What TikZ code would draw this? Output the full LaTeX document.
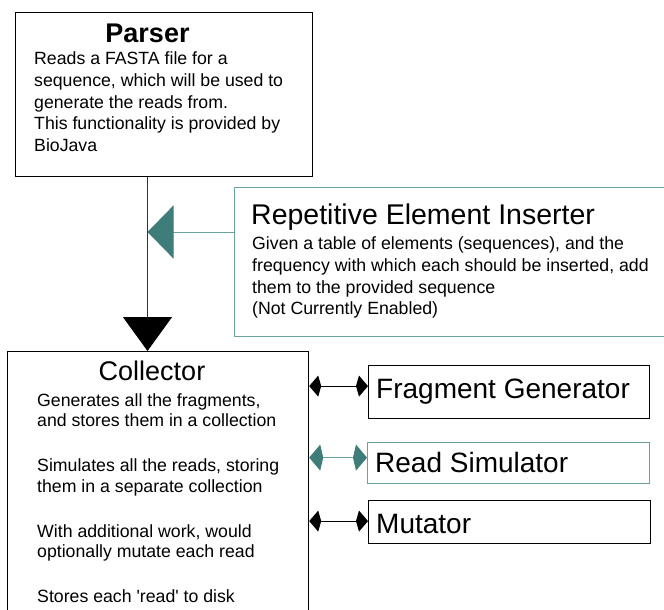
\documentclass[tikz,border=0pt]{standalone}
\usepackage{fontspec}
\setmainfont{Liberation Sans}
\usepackage{tikz}
\usetikzlibrary{positioning, calc, arrows.meta}
\definecolor{tealfill}{HTML}{3F7D7A}
\definecolor{tealedge}{HTML}{6AA29E}

\begin{document}
\begin{tikzpicture}[x=1pt,y=-1pt,
    box/.style={draw, line width=1.2pt, inner sep=0pt, anchor=north west},
    head/.style={font=\fontsize{28}{32}\selectfont, inner sep=0pt, anchor=base west},
    body/.style={font=\fontsize{17.7}{21.7}\selectfont, inner sep=0pt, align=left, anchor=north west},
    link/.style={line width=1pt, {Kite[length=12pt,width=21pt,inset=3pt]}-{Kite[length=12pt,width=21pt,inset=3pt]}}]
  \useasboundingbox (0,0) rectangle (664,610);
  \clip (0,0) rectangle (664,610);
  \node[box, minimum width=297pt, minimum height=164pt] (parser) at (15,12) {};
  \node[box, draw=tealedge, minimum width=440pt, minimum height=149pt] (rep) at (234,187) {};
  \node[box, minimum width=301pt, minimum height=300pt] (coll) at (7,351) {};
  \node[box, minimum width=281pt, minimum height=53pt] (frag) at (368,365) {};
  \node[box, draw=tealedge, minimum width=282pt, minimum height=41pt] (read) at (367,442) {};
  \node[box, minimum width=282pt, minimum height=43pt] (mut) at (368,500) {};
  \node[head, anchor=base, font=\bfseries\fontsize{27}{32}\selectfont] (parsertitle) at (147.5,43) {Parser};
  \node[body] (parserbody) at (34,51.7) {Reads a FASTA file for a\\ sequence, which will be used to\\ generate the reads from.\\ This functionality is provided by\\ BioJava};
  \node[head, font=\fontsize{28.5}{32}\selectfont] (reptitle) at (251,224) {Repetitive Element Inserter};
  \node[body] (repbody) at (252,236.7) {Given a table of elements (sequences), and the\\ frequency with which each should be inserted, add\\ them to the provided sequence\\ (Not Currently Enabled)};
  \node[head, anchor=base, font=\fontsize{27}{32}\selectfont] (colltitle) at (152,380) {Collector};
  \node[body, font=\fontsize{17.7}{20.5}\selectfont] (collbody) at (37,393.4) {Generates all the fragments,\\ and stores them in a collection\\[24.5pt] Simulates all the reads, storing\\ them in a separate collection\\[24.5pt] With additional work, would\\ optionally mutate each read\\[24.5pt] Stores each \textquotesingle read\textquotesingle{} to disk};
  \node[head] (fraglabel) at (376,398) {Fragment Generator};
  \node[head] (readlabel) at (375,472) {Read Simulator};
  \node[head] (mutlabel) at (376,533) {Mutator};
  \coordinate (joint) at (147.5,232);
  \draw[line width=1pt, black!80, -{Triangle[length=34pt,width=49pt,color=black,fill=black]}] (parsertitle |- parser.south) -- (parsertitle |- coll.north);
  \draw[line width=1pt, tealedge, -{Triangle[length=26pt,width=53pt,color=tealfill,fill=tealfill]}] (rep.west |- joint) -- (joint);
  \draw[link] ([yshift=6pt]frag.west -| coll.east) -- ([yshift=6pt]frag.west);
  \draw[link, tealedge, {Kite[length=14pt,width=26pt,inset=3pt,color=tealfill,fill=tealfill]}-{Kite[length=14pt,width=26pt,inset=3pt,color=tealfill,fill=tealfill]}] ([yshift=5.5pt]read.west -| coll.east) -- ([yshift=5.5pt]read.west);
  \draw[link] ([yshift=1pt]mut.west -| coll.east) -- ([yshift=1pt]mut.west);
\end{tikzpicture}
\end{document}
